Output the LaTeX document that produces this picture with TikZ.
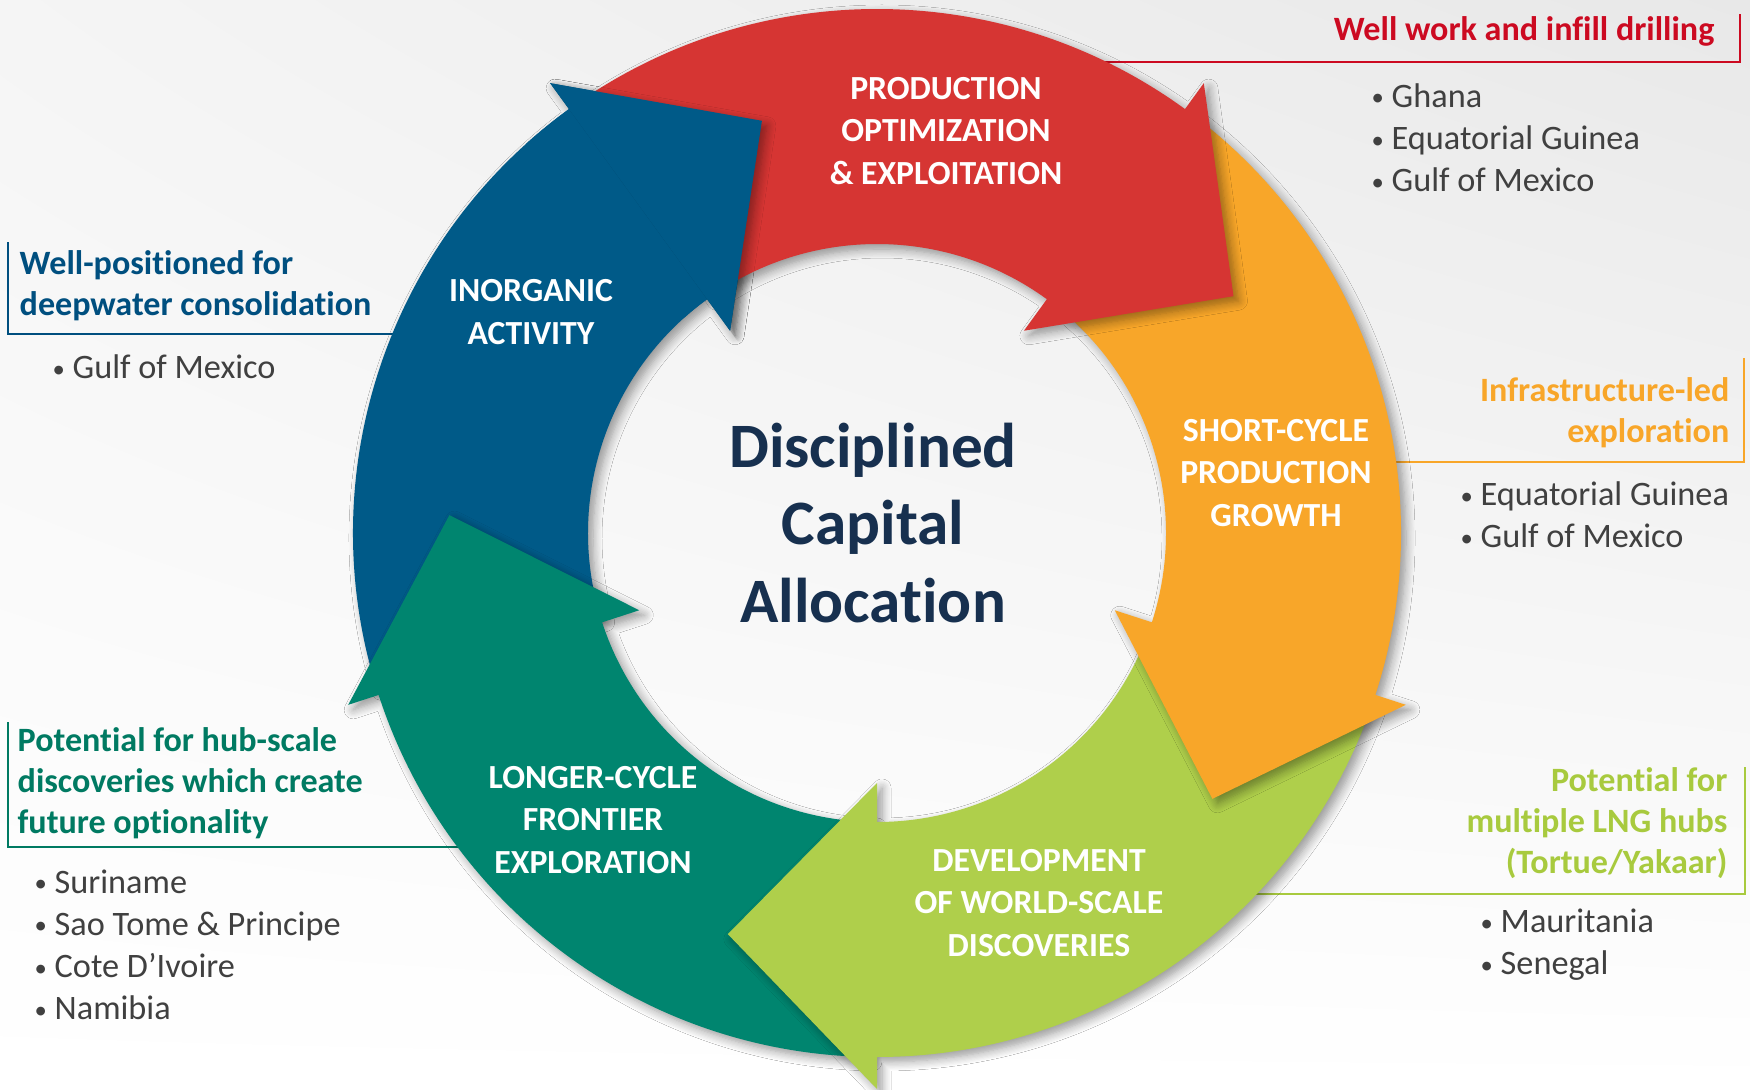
\documentclass[tikz,border=0pt]{standalone}
\usepackage{fontspec}
\setmainfont{Carlito}[Ligatures=NoCommon]
\usepackage{xcolor}
\definecolor{ringred}{HTML}{D63533}
\definecolor{ringorange}{HTML}{F8A629}
\definecolor{ringgreen}{HTML}{AFCF4B}
\definecolor{ringteal}{HTML}{00856F}
\definecolor{ringblue}{HTML}{005A88}
\definecolor{hubnavy}{HTML}{17304F}
\definecolor{notered}{HTML}{CC0A21}
\definecolor{noteblue}{HTML}{004F7F}
\definecolor{notegreen}{HTML}{A8CA3E}
\definecolor{noteteal}{HTML}{007A62}
\definecolor{listgray}{HTML}{404040}
\usetikzlibrary{shadings,shadows.blur}
% one segment of the ring: #1 colour, #2 angle of the head base
\newcommand{\ringarrow}[2]{%
  \fill[#1,arrowshadow] (#2+71:524) arc[start angle=#2+71,end angle=#2,radius=524]
    -- (#2:556) -- (#2-20.4:428) -- (#2:250) -- (#2:289)
    arc[start angle=#2,end angle=#2+71,radius=289] -- cycle;}
\newcommand{\listdot}{\raisebox{0.1ex}{\scalebox{0.72}{•}}\kern2.2pt}

\begin{document}
\begin{tikzpicture}[x=0.1mm,y=0.1mm,
  arrowshadow/.style={blur shadow={shadow xshift=0.5mm,shadow yshift=-0.5mm,
    shadow blur radius=0.9mm,shadow blur steps=8,shadow opacity=40}},
  ringlabel/.style={text=white,font=\bfseries\fontsize{9.6}{12}\selectfont,align=center,inner sep=0pt},
  notehead/.style={font=\bfseries\fontsize{9.7}{11.6}\selectfont,inner sep=0pt},
  notelist/.style={text=listgray,font=\fontsize{9.75}{12}\selectfont,align=left,inner sep=0pt,anchor=west},
  noteline/.style={line width=0.6pt}]
\useasboundingbox (0,0) rectangle (1750,1089);
\shade[upper left=black!4,upper right=black!9,lower left=white,lower right=white] (0,0) rectangle (1750,1089);

% brackets of the side notes, tucked under the ring
\coordinate (wellhook) at (1740,1075); \coordinate (inorghook) at (8,847);
\coordinate (infrahook) at (1744,731); \coordinate (lnghook) at (1745,322);
\coordinate (hubhook) at (8,367);
\draw[noteline,notered] (1060,1027) -| (wellhook);
\draw[noteline,noteblue] (440,755) -| (inorghook);
\draw[noteline,ringorange] (1350,627) -| (infrahook);
\draw[noteline,notegreen] (1200,195) -| (lnghook);
\draw[noteline,noteteal] (500,242) -| (hubhook);

\begin{scope}[shift={(877,556)}]
\ringarrow{ringblue}{126}
\ringarrow{ringteal}{-162}
\ringarrow{ringgreen}{-90}
\ringarrow{ringorange}{-18}
\ringarrow{ringred}{54}
% blue head once more, over the tail of the red one
\fill[ringblue] (126:289) arc[start angle=126,end angle=132,radius=289]
  -- (132:524) arc[start angle=132,end angle=126,radius=524] -- cycle;
\begin{scope}
\clip (0,0) -- (126:800) -- (60:800) -- cycle;
\fill[ringblue,arrowshadow] (126:250) -- (105.6:428) -- (126:556) -- cycle;
\end{scope}
\end{scope}

\node[ringlabel] (prod) at (946,958) {PRODUCTION\\OPTIMIZATION\\\& EXPLOITATION};
\node[ringlabel] (inorg) at (531,777) {INORGANIC\\ACTIVITY};
\node[ringlabel] (short) at (1276,616) {SHORT-CYCLE\\PRODUCTION\\GROWTH};
\node[ringlabel] (dev) at (1039,186) {DEVELOPMENT\\OF WORLD-SCALE\\DISCOVERIES};
\node[ringlabel] (long) at (593,269) {LONGER-CYCLE\\FRONTIER\\EXPLORATION};
\node[text=hubnavy,font=\bfseries\fontsize{18}{22}\selectfont,align=center,inner sep=0pt] (hub) at (873,566) {Disciplined\\Capital\\Allocation};

\node[notehead,text=notered,anchor=east] (wellnote) at (1715,1058) {Well work and infill drilling};
\node[notelist] (welllist) at (1371,951) {\listdot Ghana\\\listdot Equatorial Guinea\\\listdot Gulf of Mexico};
\node[notehead,text=noteblue,anchor=west,align=left] (inorgnote) at (19,803) {Well-positioned for\\deepwater consolidation};
\node[notelist] (inorglist) at (52,722) {\listdot Gulf of Mexico};
\node[notehead,text=ringorange,anchor=east,align=right] (infranote) at (1730,676) {Infrastructure-led\\exploration};
\node[notelist] (infralist) at (1460,574) {\listdot Equatorial Guinea\\\listdot Gulf of Mexico};
\node[notehead,text=notegreen,anchor=east,align=right] (lngnote) at (1728,266) {Potential for\\multiple LNG hubs\\(Tortue/Yakaar)};
\node[notelist] (lnglist) at (1480,144) {\listdot Mauritania\\\listdot Senegal};
\node[notehead,text=noteteal,anchor=west,align=left] (hubnote) at (17,306) {Potential for hub-scale\\discoveries which create\\future optionality};
\node[notelist] (hublist) at (34,144) {\listdot Suriname\\\listdot Sao Tome \& Principe\\\listdot Cote D’Ivoire\\\listdot Namibia};
\end{tikzpicture}
\end{document}
